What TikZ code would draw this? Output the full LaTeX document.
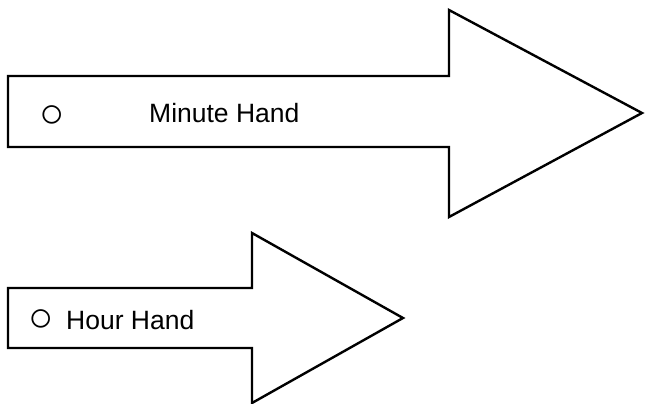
\documentclass[tikz,border=0pt]{standalone}
\usepackage{fontspec}
\setmainfont{Liberation Sans}
\begin{document}
\begin{tikzpicture}[x=1pt,y=-1pt,
  arrowshape/.style={draw=black,line width=2.4pt,fill=white,line join=miter},
  lbl/.style={inner sep=0pt,font=\fontsize{26.5}{30}\selectfont,anchor=base west},
  bul/.style={inner sep=0pt,font=\fontsize{42}{46}\selectfont,anchor=base}]
\useasboundingbox (0,0) rectangle (645,404);
% minute hand arrow
\coordinate (m1) at (8,76);
\coordinate (m2) at (449,76);
\coordinate (m3) at (449,10);
\coordinate (mt) at (642,113);
\coordinate (m5) at (449,217);
\coordinate (m6) at (449,147);
\coordinate (m7) at (8,147);
\draw[arrowshape] (m1) -- (m2) -- (m3) -- (mt) -- (m5) -- (m6) -- (m7) -- cycle;
\node[bul] (mb) at (52,127) {○};
\node[lbl] (ml) at (149,122) {Minute Hand};
% hour hand arrow
\coordinate (h1) at (8,288);
\coordinate (h2) at (252,288);
\coordinate (h3) at (252,233);
\coordinate (ht) at (403,318);
\coordinate (h5) at (252,403);
\coordinate (h6) at (252,348);
\coordinate (h7) at (8,348);
\draw[arrowshape] (h1) -- (h2) -- (h3) -- (ht) -- (h5) -- (h6) -- (h7) -- cycle;
\node[bul] (hb) at (41,331.5) {○};
\node[lbl] (hl) at (66,329) {Hour Hand};
\end{tikzpicture}
\end{document}
